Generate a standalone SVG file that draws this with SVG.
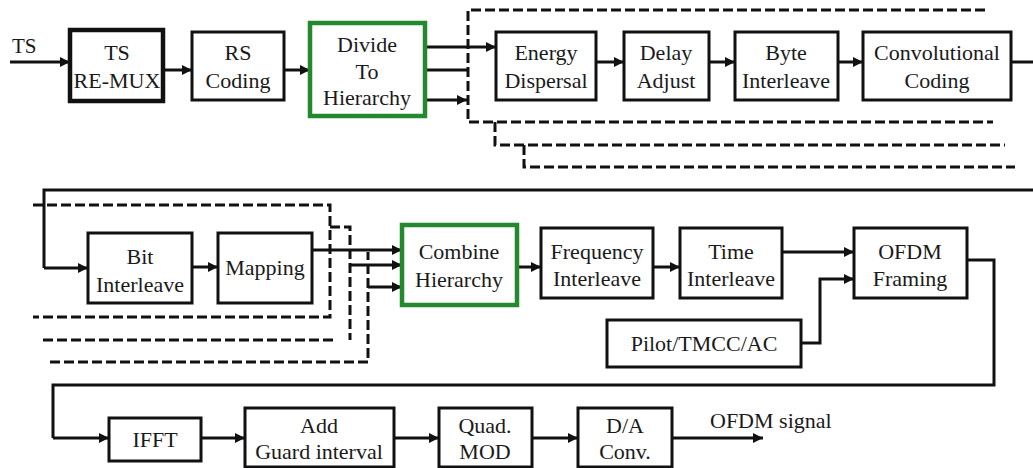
<svg xmlns="http://www.w3.org/2000/svg" width="1033" height="468" viewBox="0 0 1033 468">
<defs>
<marker id="ah" markerUnits="userSpaceOnUse" markerWidth="10" markerHeight="10" refX="10" refY="5" orient="auto">
<path d="M0,0 L10,5 L0,10 z" fill="#111"/>
</marker>
<style>
.box{fill:#fff;stroke:#111;stroke-width:3}
.thick{stroke-width:4.5}
.green{fill:#fff;stroke:#24882f;stroke-width:4.5}
.t{font-family:'Liberation Serif','DejaVu Serif',serif;font-size:22px;fill:#1a1a1a;text-anchor:middle}
.tl{font-family:'Liberation Serif','DejaVu Serif',serif;font-size:21px;fill:#1a1a1a}
.ln{fill:none;stroke:#111;stroke-width:3}
.arr{fill:none;stroke:#111;stroke-width:3;marker-end:url(#ah)}
.dash{fill:none;stroke:#111;stroke-width:3;stroke-dasharray:10 4}
</style>
</defs>
<rect width="1033" height="468" fill="#fff"/>

<g id="connectors">
<line class="arr" x1="10" y1="62" x2="70" y2="62"/>
<line class="arr" x1="163" y1="70" x2="192" y2="70"/>
<line class="arr" x1="284" y1="70" x2="310" y2="70"/>
<line class="arr" x1="425" y1="47" x2="496" y2="47"/>
<line class="ln" x1="425" y1="70" x2="468" y2="70"/>
<line class="arr" x1="425" y1="100" x2="467" y2="100"/>
<line class="arr" x1="596" y1="62" x2="624" y2="62"/>
<line class="arr" x1="709" y1="62" x2="735" y2="62"/>
<line class="arr" x1="838" y1="62" x2="863" y2="62"/>
<line class="ln" x1="1011" y1="62" x2="1033" y2="62"/>
<path class="ln" d="M1033,190 H44 V268"/>
<line class="arr" x1="44" y1="268" x2="88" y2="268"/>
<path class="dash" d="M985,10 H468 V122 H993"/>
<path class="dash" d="M495,122 V145 H1005"/>
<path class="dash" d="M524,145 V167 H1015"/>
<path class="dash" d="M33,205 H330 V317 H33"/>
<path class="dash" d="M330,227 H350 V340"/>
<line class="dash" x1="43" y1="340" x2="337" y2="340"/>
<path class="dash" d="M50,362 H368 V252"/>
<line class="arr" x1="192" y1="267" x2="218" y2="267"/>
<line class="arr" x1="312" y1="250" x2="402" y2="250"/>
<line class="arr" x1="350" y1="265" x2="402" y2="265"/>
<line class="arr" x1="368" y1="287" x2="402" y2="287"/>
<line class="arr" x1="517" y1="267" x2="541" y2="267"/>
<line class="arr" x1="653" y1="267" x2="680" y2="267"/>
<line class="arr" x1="782" y1="252" x2="854" y2="252"/>
<path class="arr" d="M801,343 H820 V279 H854"/>
<path class="ln" d="M967,260 H994 V385 H53 V438"/>
<line class="arr" x1="53" y1="438" x2="109" y2="438"/>
<line class="arr" x1="201" y1="438" x2="245" y2="438"/>
<line class="arr" x1="394" y1="438" x2="439" y2="438"/>
<line class="arr" x1="532" y1="438" x2="578" y2="438"/>
<line class="arr" x1="672" y1="438" x2="763" y2="438"/>
</g>

<g id="ts-label"><text class="tl" x="12" y="53">TS</text></g>

<g id="ts-remux">
<rect class="box thick" x="70" y="30" width="93" height="71"/>
<text class="t" x="117" y="60">TS</text>
<text class="t" x="117" y="88">RE-MUX</text>
</g>
<g id="rs-coding">
<rect class="box" x="192" y="32" width="92" height="68"/>
<text class="t" x="238" y="60">RS</text>
<text class="t" x="238" y="88">Coding</text>
</g>
<g id="divide-hierarchy">
<rect class="green" x="310" y="23" width="115" height="93"/>
<text class="t" x="367" y="52">Divide</text>
<text class="t" x="367" y="79">To</text>
<text class="t" x="367" y="105">Hierarchy</text>
</g>
<g id="energy-dispersal">
<rect class="box" x="496" y="32" width="100" height="68"/>
<text class="t" x="546" y="60">Energy</text>
<text class="t" x="546" y="88">Dispersal</text>
</g>
<g id="delay-adjust">
<rect class="box" x="624" y="32" width="85" height="68"/>
<text class="t" x="666" y="60">Delay</text>
<text class="t" x="666" y="88">Adjust</text>
</g>
<g id="byte-interleave">
<rect class="box" x="735" y="32" width="103" height="68"/>
<text class="t" x="786" y="60">Byte</text>
<text class="t" x="786" y="88">Interleave</text>
</g>
<g id="convolutional-coding">
<rect class="box" x="863" y="32" width="148" height="68"/>
<text class="t" x="937" y="60">Convolutional</text>
<text class="t" x="937" y="88">Coding</text>
</g>

<g id="bit-interleave">
<rect class="box" x="88" y="233" width="104" height="70"/>
<text class="t" x="140" y="264">Bit</text>
<text class="t" x="140" y="292">Interleave</text>
</g>
<g id="mapping">
<rect class="box" x="218" y="233" width="94" height="70"/>
<text class="t" x="265" y="275">Mapping</text>
</g>
<g id="combine-hierarchy">
<rect class="green" x="402" y="225" width="115" height="80"/>
<text class="t" x="459" y="259">Combine</text>
<text class="t" x="459" y="287">Hierarchy</text>
</g>
<g id="frequency-interleave">
<rect class="box" x="541" y="228" width="112" height="70"/>
<text class="t" x="597" y="259">Frequency</text>
<text class="t" x="597" y="286">Interleave</text>
</g>
<g id="time-interleave">
<rect class="box" x="680" y="228" width="102" height="70"/>
<text class="t" x="731" y="259">Time</text>
<text class="t" x="731" y="286">Interleave</text>
</g>
<g id="ofdm-framing">
<rect class="box" x="854" y="228" width="113" height="70"/>
<text class="t" x="910" y="259">OFDM</text>
<text class="t" x="910" y="286">Framing</text>
</g>
<g id="pilot-tmcc-ac">
<rect class="box" x="607" y="320" width="194" height="47"/>
<text class="t" x="704" y="351">Pilot/TMCC/AC</text>
</g>

<g id="ifft">
<rect class="box" x="109" y="418" width="92" height="43"/>
<text class="t" x="155" y="447">IFFT</text>
</g>
<g id="add-guard-interval">
<rect class="box" x="245" y="408" width="149" height="59"/>
<text class="t" x="319" y="433">Add</text>
<text class="t" x="319" y="459">Guard interval</text>
</g>
<g id="quad-mod">
<rect class="box" x="439" y="408" width="93" height="59"/>
<text class="t" x="485" y="433">Quad.</text>
<text class="t" x="485" y="459">MOD</text>
</g>
<g id="da-conv">
<rect class="box" x="578" y="408" width="94" height="59"/>
<text class="t" x="625" y="433">D/A</text>
<text class="t" x="625" y="459">Conv.</text>
</g>
<g id="ofdm-signal-label"><text class="tl" x="710" y="428" style="font-size:22px">OFDM signal</text></g>
</svg>
